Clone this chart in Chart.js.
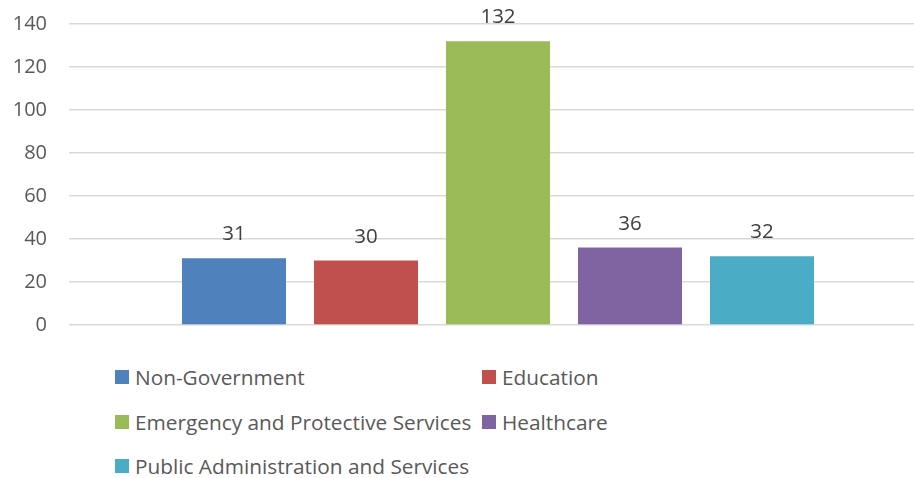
<!DOCTYPE html>
<html>
<head>
<meta charset="utf-8">
<script src="https://cdn.jsdelivr.net/npm/chart.js@4"></script>
<style>
  body { margin: 0; width: 914px; height: 478px; overflow: hidden; background: #fff; font-family: "Open Sans", sans-serif; }
  #wrap { position: absolute; left: 0; top: 0; width: 927px; height: 345px; }
  #legend { position: absolute; left: 115px; top: 355px; display: grid; grid-template-columns: 367px 300px; }
  .item { height: 44.5px; display: flex; align-items: center; font-size: 20.8px; color: #595959; white-space: nowrap; }
  .box { width: 14px; height: 14px; margin-right: 6px; flex: none; }
</style>
</head>
<body>
<div id="wrap"><canvas id="sectorChart" width="927" height="345"></canvas></div>
<div id="legend"></div>
<script>
// sectors and counts
const sectors = ['Non-Government', 'Education', 'Emergency and Protective Services', 'Healthcare', 'Public Administration and Services'];
const counts = [31, 30, 132, 36, 32];
const colors = ['#4F81BD', '#C0504D', '#9BBB59', '#8064A2', '#4BACC6'];
const yTicks = [0, 20, 40, 60, 80, 100, 120, 140];

// numbers over each bar
const valueLabels = {
  id: 'valueLabels',
  afterDatasetsDraw(chart) {
    const ctx = chart.ctx;
    ctx.save();
    ctx.font = '20.5px "Open Sans"';
    ctx.fillStyle = '#404040';
    ctx.textAlign = 'center';
    ctx.textBaseline = 'alphabetic';
    chart.data.datasets.forEach((ds, i) => {
      chart.getDatasetMeta(i).data.forEach((bar, j) => {
        ctx.fillText(ds.data[j], bar.x, bar.y - 18);
      });
    });
    ctx.restore();
  }
};

const ctx = document.getElementById('sectorChart');
const sectorChart = new Chart(ctx, {
  type: 'bar',
  data: {
    labels: [''],
    datasets: sectors.map((name, i) => ({
      label: name,
      data: [counts[i]],
      backgroundColor: colors[i],
      barPercentage: 104 / 132,
      categoryPercentage: 660 / 858
    }))
  },
  options: {
    responsive: false,
    animation: false,
    devicePixelRatio: 1,
    layout: { padding: { top: 24, bottom: 20, left: 0, right: 0 } },
    plugins: { legend: { display: false }, tooltip: { enabled: false } },
    scales: {
      x: { display: false },
      y: {
        min: 0,
        max: 140,
        afterFit(scale) {
          scale.width = 69;
          scale.paddingTop = 0;
          scale.paddingBottom = 0;
        },
        afterBuildTicks(scale) { scale.ticks = yTicks.map(v => ({ value: v })); },
        border: { display: false },
        grid: { color: '#d9d9d9', lineWidth: 1.5, drawTicks: false },
        ticks: { padding: 22, color: '#595959', font: { family: 'Open Sans', size: 20 } }
      }
    }
  },
  plugins: [valueLabels]
});

// legend in two columns
const legend = document.getElementById('legend');
sectors.forEach((name, i) => {
  const item = document.createElement('div');
  item.className = 'item';
  item.innerHTML = '<span class="box" style="background:' + colors[i] + '"></span>' + name;
  legend.appendChild(item);
});
</script>
</body>
</html>
